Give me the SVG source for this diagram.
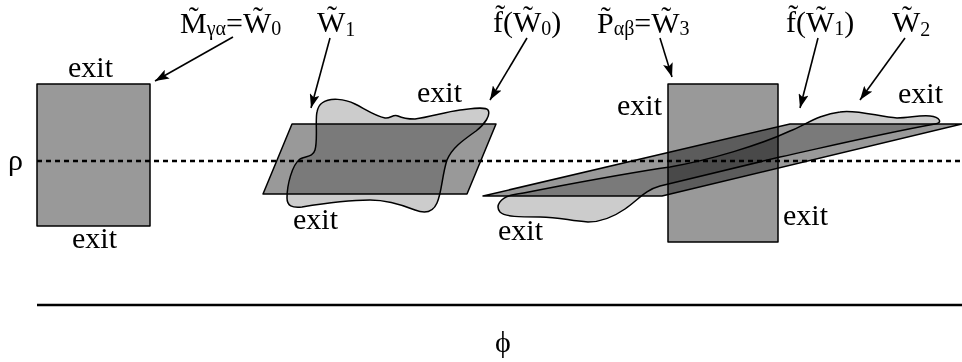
<svg xmlns="http://www.w3.org/2000/svg" width="962" height="362" viewBox="0 0 962 362">
<style>
.sh{stroke:#000;stroke-width:1.5;stroke-linejoin:round;mix-blend-mode:multiply}
.lt{fill:#ccc}
.md{fill:#999}
.arr{stroke:#000;stroke-width:1.6;fill:none;marker-end:url(#ah)}
.dash{stroke:#000;stroke-width:2.5;stroke-dasharray:5 4;fill:none}
</style>
<defs>
<marker id="ah" viewBox="0 0 14 10" refX="14" refY="5" markerWidth="14" markerHeight="10" markerUnits="userSpaceOnUse" orient="auto">
<path d="M0,0 L14,5 L0,10 L3,5 Z" fill="#000"/>
</marker>
</defs>
<rect x="0" y="0" width="962" height="362" fill="#fff"/>
<g font-family="Liberation Serif, Times New Roman, serif" font-size="30" fill="#000">

<g id="M">
<rect class="sh md" x="37" y="84" width="113" height="142"/>
<text x="68" y="77">exit</text>
<text x="72" y="248">exit</text>
</g>

<g id="fW0">
<path class="sh lt" d="M322,103 C330,97 345,99 355,104 C365,109 375,116 385,118 C390,119 393,114 398,116 C402,118 408,119 415,119 C430,117 445,112 460,110 C470,109 485,106 488,110 C491,115 485,124 476,131 C462,141 452,148 447,160 C442,175 442,192 437,203 C433,212 425,214 415,210 C400,204 385,200 370,200 C345,200 320,204 302,207 C292,208 287,206 287,198 C287,185 292,165 300,159 C306,156 313,157 315,150 C318,140 315,120 317,112 C318,107 319,105 322,103 Z"/>
<text x="417" y="102">exit</text>
</g>

<g id="W1">
<polygon class="sh md" points="292,124 496,124 467,194 263,194"/>
<text x="293" y="229">exit</text>
</g>

<g id="fW1">
<path class="sh lt" d="M512,195 C560,186 620,174 670,167 C710,160 760,145 790,131 C805,125 820,114 840,112 C855,109 880,117 897,118 C910,118 918,115 930,116 C940,117 943,123 935,124 C880,134 830,146 780,157 L660,186 C645,190 638,200 625,209 C612,218 600,222 588,222 C570,221 560,217 540,217 C520,217 505,217 500,212 C495,206 500,198 512,195 Z"/>
<text x="498" y="240">exit</text>
<text x="898" y="103">exit</text>
</g>

<g id="W2">
<polygon class="sh md" points="483,196 790,124 962,124 662,196"/>
</g>

<g id="P">
<rect class="sh md" x="668" y="84" width="110" height="158"/>
<text x="617" y="115">exit</text>
<text x="783" y="225">exit</text>
</g>

<g id="axes">
<line class="dash" x1="37" y1="161" x2="962" y2="161"/>
<line x1="37" y1="305" x2="962" y2="305" stroke="#000" stroke-width="2.5"/>
<text x="8" y="170">ρ</text>
<text x="503" y="352" text-anchor="middle">ϕ</text>
</g>

<g id="labels">
<text x="180" y="33">M̃<tspan font-size="20" dy="2">γα</tspan><tspan dy="-2">=W̃</tspan><tspan font-size="20" dy="2">0</tspan></text>
<text x="317" y="32">W̃<tspan font-size="20" dy="4">1</tspan></text>
<text x="493" y="32">f̃(W̃<tspan font-size="20" dy="3">0</tspan><tspan dy="-3">)</tspan></text>
<text x="597" y="33">P̃<tspan font-size="20" dy="2">αβ</tspan><tspan dy="-2">=W̃</tspan><tspan font-size="20" dy="2">3</tspan></text>
<text x="786" y="32">f̃(W̃<tspan font-size="20" dy="3">1</tspan><tspan dy="-3">)</tspan></text>
<text x="892" y="32">W̃<tspan font-size="20" dy="4">2</tspan></text>
</g>

<g id="connectors">
<line class="arr" x1="233" y1="37" x2="155" y2="81"/>
<line class="arr" x1="330" y1="38" x2="311" y2="108"/>
<line class="arr" x1="527" y1="38" x2="490" y2="100"/>
<line class="arr" x1="660" y1="38" x2="672" y2="77"/>
<line class="arr" x1="818" y1="38" x2="800" y2="108"/>
<line class="arr" x1="905" y1="38" x2="860" y2="100"/>
</g>
</g>
</svg>
